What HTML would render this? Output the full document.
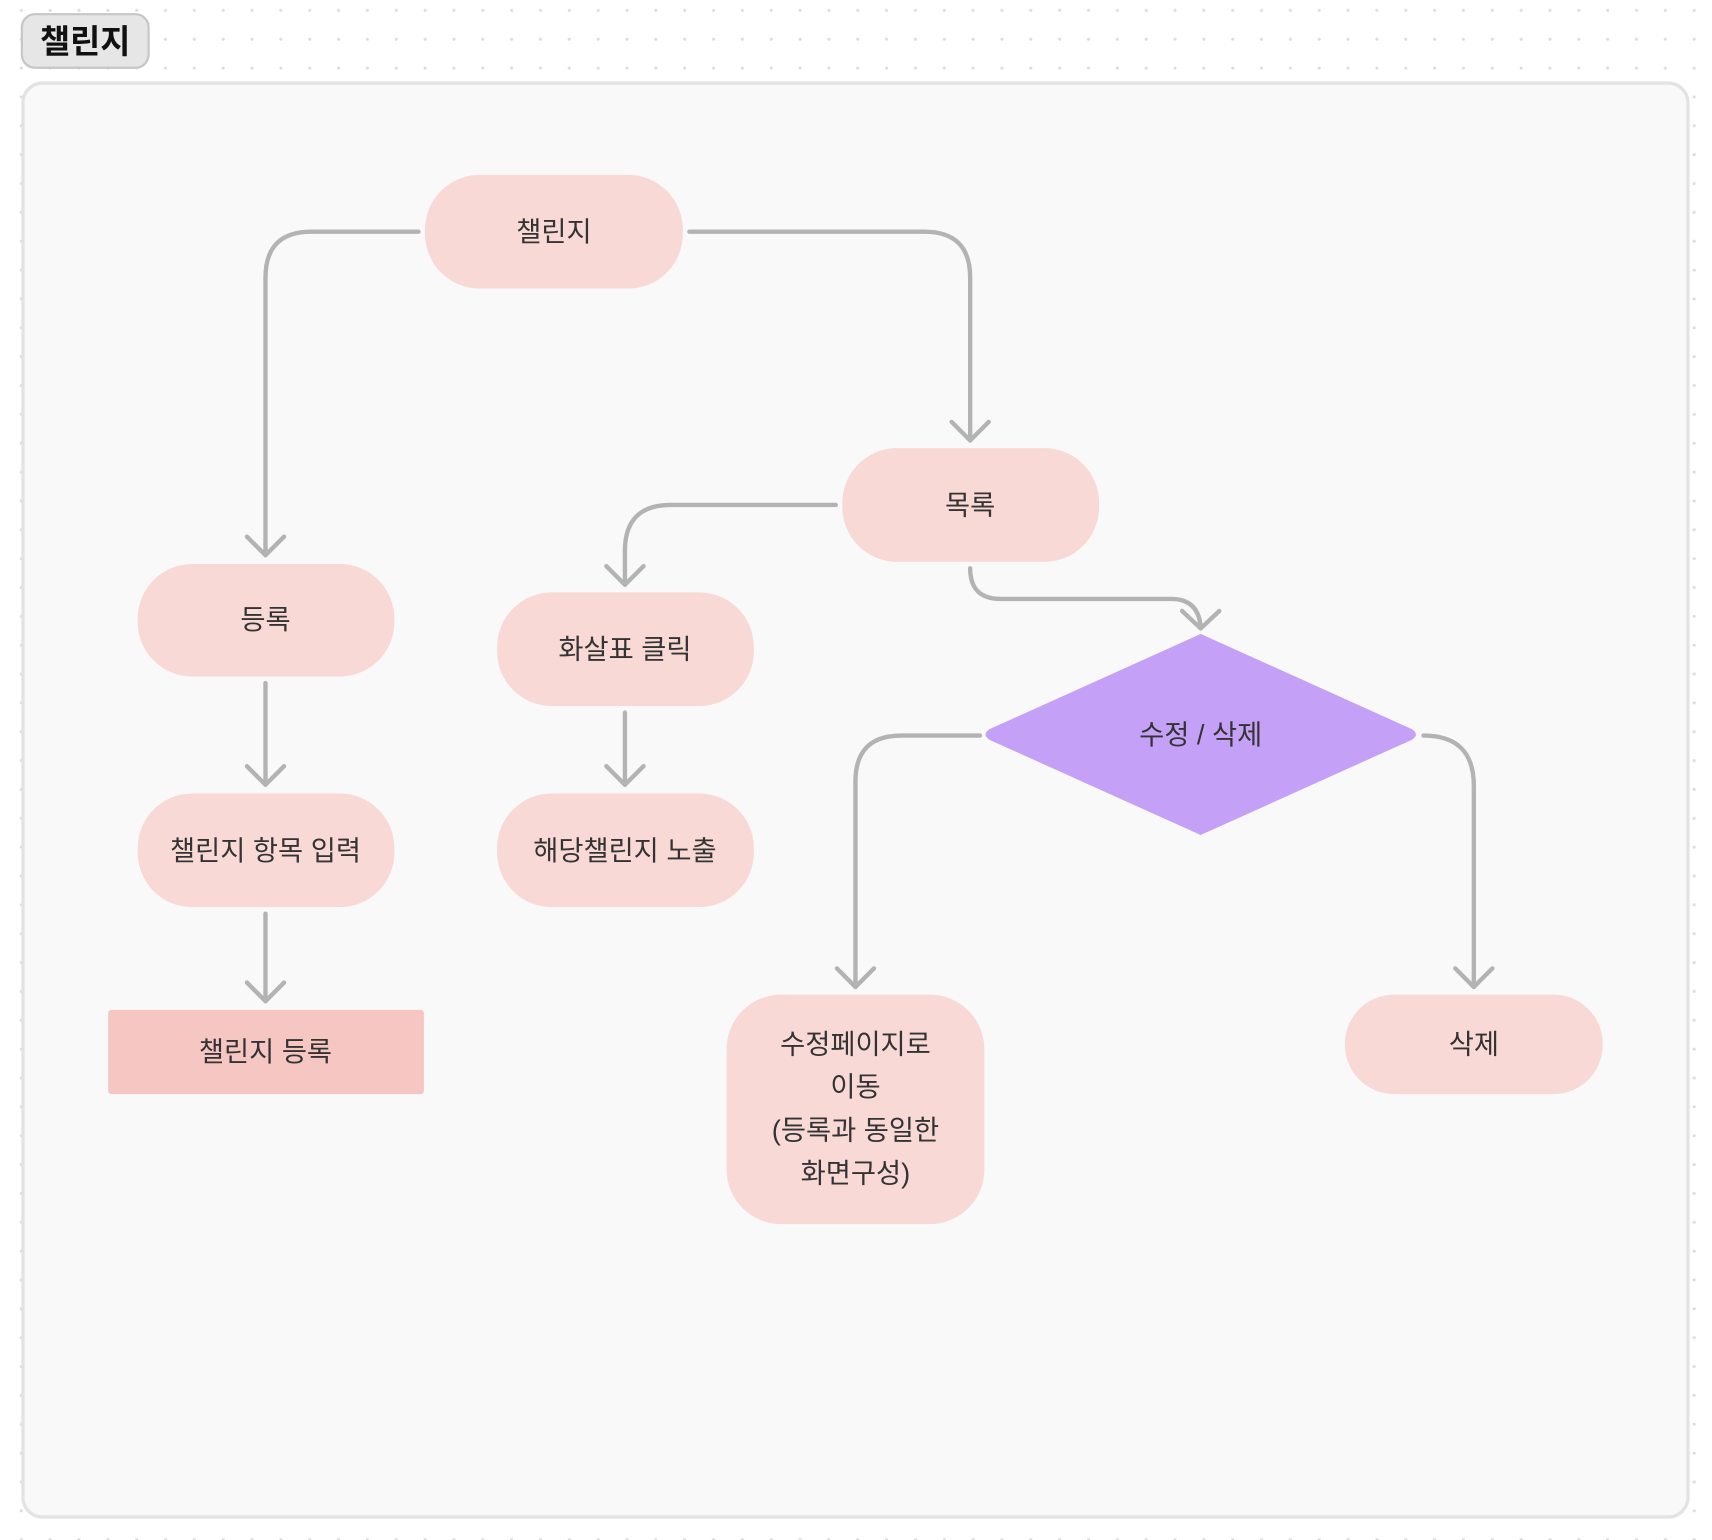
<!DOCTYPE html>
<html><head><meta charset="utf-8"><style>
html,body{margin:0;padding:0;background:#fff;}
svg{display:block}
text{font-family:"Liberation Sans","Noto Sans CJK KR",sans-serif;fill:#333;font-size:25px;text-anchor:middle;dominant-baseline:central}
</style></head><body>
<svg width="1712" height="1540" viewBox="0 0 1567 1409" preserveAspectRatio="none" xmlns="http://www.w3.org/2000/svg">
<defs>
<pattern id="dots" x="18" y="8" width="26.4" height="26.4" patternUnits="userSpaceOnUse">
<circle cx="1.5" cy="1.5" r="1.4" fill="#dcdcdc"/>
</pattern>
</defs>
<rect width="1567" height="1409" fill="#fff"/>
<rect width="1567" height="1409" fill="url(#dots)"/>
<rect x="21" y="76" width="1524" height="1312" rx="18" fill="#f9f9f9" stroke="#e3e3e3" stroke-width="3"/>
<rect x="20" y="13" width="116" height="49" rx="12" fill="#e6e6e6" stroke="#c6c6c6" stroke-width="2"/>
<text x="78" y="38" style="font-size:30px;font-weight:bold;fill:#111">챌린지</text>

<g fill="none" stroke="#b3b3b3" stroke-width="4" stroke-linecap="round" stroke-linejoin="round">
<path d="M383 212 H285 Q243 212 243 254 V508"/><path d="M226 491 L243 508 L260 491"/>
<path d="M631 212 H846 Q888 212 888 254 V403"/><path d="M871 386 L888 403 L905 386"/>
<path d="M765 462 H614 Q572 462 572 504 V535"/><path d="M555 518 L572 535 L589 518"/>
<path d="M888 520 Q888 548 916 548 H1072 Q1097 548 1099 574"/><path d="M1082 559 L1099 575 L1116 559"/>
<path d="M243 625 V718"/><path d="M226 701 L243 718 L260 701"/>
<path d="M572 652 V718"/><path d="M555 701 L572 718 L589 701"/>
<path d="M243 836 V916"/><path d="M226 899 L243 916 L260 899"/>
<path d="M897 673 H825 Q783 673 783 715 V903"/><path d="M766 886 L783 903 L800 886"/>
<path d="M1303 673 Q1349 673 1349 719 V903"/><path d="M1332 886 L1349 903 L1366 886"/>
</g>

<g fill="#f8d9d5">
<rect x="389" y="160" width="236" height="104" rx="50"/>
<rect x="771" y="410" width="235" height="104" rx="50"/>
<rect x="126" y="516" width="235" height="103" rx="50"/>
<rect x="455" y="542" width="235" height="104" rx="50"/>
<rect x="126" y="726" width="235" height="104" rx="50"/>
<rect x="455" y="726" width="235" height="104" rx="50"/>
<rect x="665" y="910" width="236" height="210" rx="50"/>
<rect x="1231" y="910" width="236" height="91" rx="45"/>
</g>
<rect x="99" y="924" width="289" height="77" rx="3" fill="#f5c6c2"/>
<path d="M1099 580 L1292 667 Q1300 672 1292 677 L1099 764 L906 677 Q898 672 906 667 Z" fill="#c4a1f7"/>

<text x="507" y="212">챌린지</text>
<text x="888" y="462">목록</text>
<text x="243" y="567">등록</text>
<text x="572" y="594">화살표 클릭</text>
<text x="243" y="778">챌린지 항목 입력</text>
<text x="572" y="778">해당챌린지 노출</text>
<text x="243" y="962">챌린지 등록</text>
<text x="1099" y="672">수정 / 삭제</text>
<text x="783" y="955">수정페이지로</text>
<text x="783" y="994">이동</text>
<text x="783" y="1034">(등록과 동일한</text>
<text x="783" y="1073">화면구성)</text>
<text x="1349" y="955">삭제</text>
</svg>
</body></html>
